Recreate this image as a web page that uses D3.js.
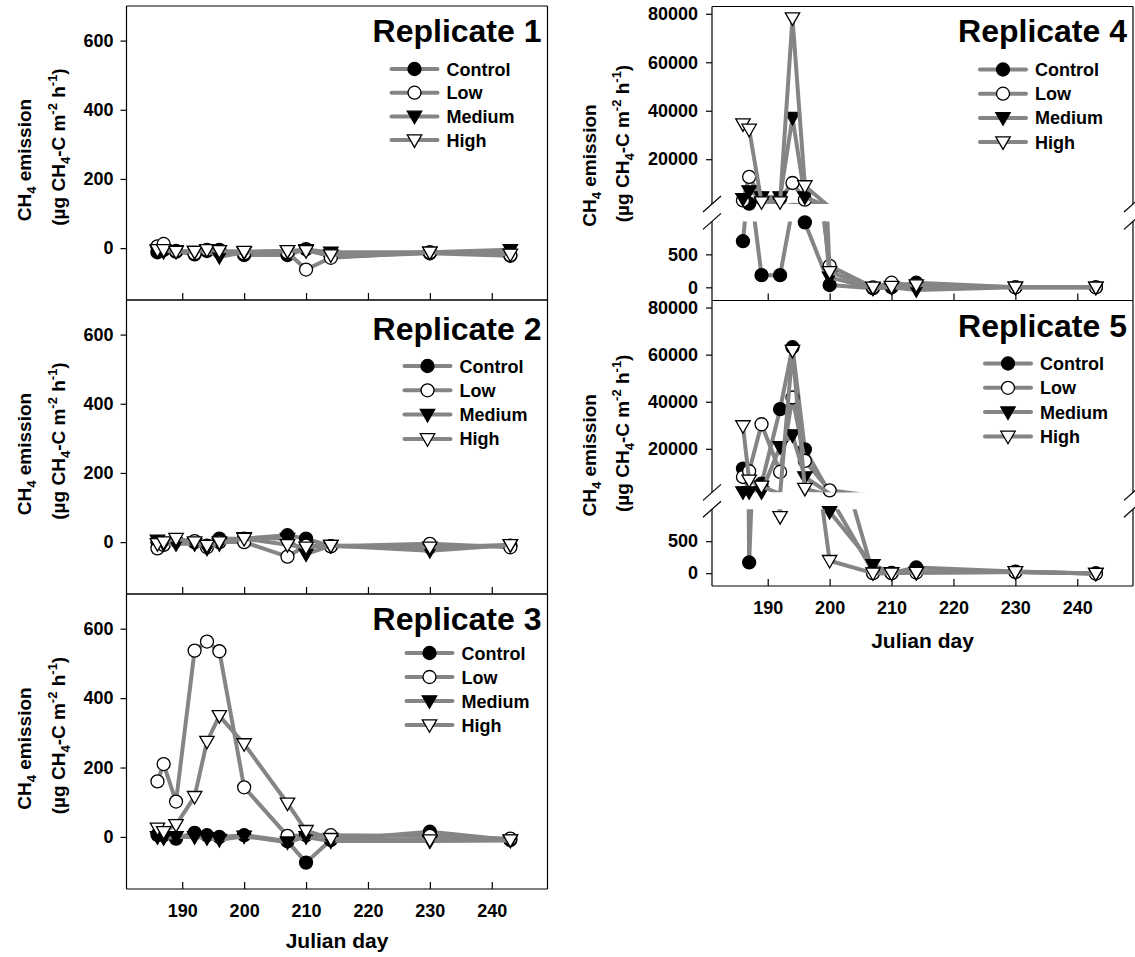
<!DOCTYPE html>
<html><head><meta charset="utf-8">
<script src="https://cdn.jsdelivr.net/npm/d3@7"></script>
<style>
body{margin:0;background:#fff}
svg{display:block}
text{font-family:Arial,"Liberation Sans",Helvetica,sans-serif;font-weight:bold;fill:#000}
</style>
</head><body>
<svg id="c" width="1135" height="957"></svg>
<script>
// ---------------- data ----------------
const days = [186,187,189,192,194,196,200,207,210,214,230,243];
const treatments = ["Control","Low","Medium","High"];
const xTicks = [190,200,210,220,230,240];
const yTicksSmall = [0,200,400,600];
const yTicksUpper = [20000,40000,60000,80000];
const yTicksLower = [0,500];
const panelTitles = ["Replicate 1","Replicate 2","Replicate 3","Replicate 4","Replicate 5"];

const rep1Control = [-12,-5,-10,-18,-8,-5,-20,-20,-3,-25,-15,-22];
const rep1Low     = [5,12,-8,-15,-5,-10,-15,-12,-62,-28,-12,-20];
const rep1Medium  = [-8,-10,-8,-10,-5,-25,-12,-8,-5,-12,-12,-5];
const rep1High    = [-5,-5,-10,-10,-5,-8,-10,-8,-8,-20,-12,-18];

const rep2Control = [0,-5,5,0,-10,10,10,20,10,-12,-15,-10];
const rep2Low     = [-18,-8,5,3,-15,0,0,-42,-10,-12,-5,-15];
const rep2Medium  = [5,-5,-5,-5,-18,-5,12,10,-35,-10,-25,-8];
const rep2High    = [-5,0,10,0,-10,0,10,-8,-15,-10,-15,-8];

const rep3Control = [6,5,-5,12,5,0,5,-12,-74,-9,15,-9];
const rep3Low     = [160,210,102,537,563,535,143,3,5,5,3,-5];
const rep3Medium  = [0,-3,0,0,-3,-8,2,-15,0,-12,-12,-10];
const rep3High    = [25,15,35,116,275,349,268,97,18,-5,-9,-9];

const rep4Control = [700,1670,185,185,1200,985,35,-15,0,70,0,0];
const rep4Low     = [3000,12700,3800,3800,10200,3300,325,0,70,25,0,0];
const rep4Medium  = [3700,6900,4400,4400,37200,4400,150,-15,0,-40,0,0];
const rep4High    = [34500,32300,2350,2350,78200,8970,235,0,10,35,0,0];

const rep5Control = [11620,168,5200,36840,63160,19740,1200,25,5,89,25,-5];
const rep5Low     = [8030,10470,30430,10170,41800,14870,2350,0,0,10,20,-5];
const rep5Medium  = [1650,1650,1650,20850,25850,8030,960,131,5,10,20,-5];
const rep5High    = [29700,6620,4060,880,61750,3080,195,0,0,10,20,-5];

// ---------------- layout ----------------
const svg = d3.select("#c");
const LINE_COLOR = "#858585";
const FS_TICK = 18, FS_LEG = 18, FS_TITLE = 32, FS_AX = 21, FS_YT = 19;

const panels = [
  {title:panelTitles[0], series:[rep1Control,rep1Low,rep1Medium,rep1High], x0:126.5, x1:547.5, top:6, bottom:300, broken:false, xLabels:false, leg:{dx:133, dy:63, step:23.7}, tDy:36},
  {title:panelTitles[1], series:[rep2Control,rep2Low,rep2Medium,rep2High], x0:126.5, x1:547.5, top:300, bottom:594, broken:false, xLabels:false, leg:{dx:120, dy:66, step:24.3}, tDy:40},
  {title:panelTitles[2], series:[rep3Control,rep3Low,rep3Medium,rep3High], x0:126.5, x1:547.5, top:594, bottom:889, broken:false, xLabels:true, leg:{dx:118, dy:59, step:24}, tDy:36},
  {title:panelTitles[3], series:[rep4Control,rep4Low,rep4Medium,rep4High], x0:712, x1:1133, top:6.5, bottom:300.5, broken:true, xLabels:false, leg:{dx:130, dy:63, step:24.2}, tDy:35},
  {title:panelTitles[4], series:[rep5Control,rep5Low,rep5Medium,rep5High], x0:712, x1:1133, top:300.5, bottom:586, broken:true, xLabels:true, leg:{dx:125, dy:63, step:24.3}, tDy:36}
];

const markerStyle = [
  {shape:"circle", fill:"#000"},
  {shape:"circle", fill:"#fff"},
  {shape:"tri", fill:"#000"},
  {shape:"tri", fill:"#fff"}
];

function drawMarker(g, x, y, st){
  if(st.shape==="circle"){
    g.append("circle").attr("cx",x).attr("cy",y).attr("r",6.5)
      .attr("fill",st.fill).attr("stroke","#000").attr("stroke-width",1.3);
  } else {
    g.append("path").attr("d",`M${x-7.2},${y-5.2}L${x+7.2},${y-5.2}L${x},${y+7.3}Z`)
      .attr("fill",st.fill).attr("stroke","#000").attr("stroke-width",1.3).attr("stroke-linejoin","miter");
  }
}

let clipId = 0;
panels.forEach((p, pi) => {
  const g = svg.append("g");
  const x = d3.scaleLinear().domain([181,249]).range([p.x0,p.x1]);
  const H = p.bottom - p.top;
  let segs;
  if(!p.broken){
    segs = [{y:d3.scaleLinear().domain([-150,700]).range([p.bottom,p.top]), ticks:yTicksSmall, lo:-150, hi:700}];
  } else {
    const upB = p.top + 0.672*H, loT = p.bottom - 0.269*H;
    segs = [
      {y:d3.scaleLinear().domain([1500,83000]).range([upB,p.top]), ticks:yTicksUpper, lo:1500, hi:83000},
      {y:d3.scaleLinear().domain([-200,1000]).range([p.bottom,loT]), ticks:yTicksLower, lo:-200, hi:1000}
    ];
  }
  // clip paths
  segs.forEach(s => {
    const id = "clip"+(clipId++);
    const r = s.y.range();
    svg.append("clipPath").attr("id",id).append("rect")
      .attr("x",p.x0).attr("y",Math.min(r[0],r[1])).attr("width",p.x1-p.x0).attr("height",Math.abs(r[0]-r[1]));
    s.clip = id;
  });

  // series: line then markers, in order
  p.series.forEach((vals, si) => {
    const pts = days.map((d,i)=>({d, v:vals[i]}));
    segs.forEach(s => {
      const line = d3.line().x(q=>x(q.d)).y(q=>s.y(q.v));
      g.append("path").attr("d",line(pts)).attr("fill","none")
        .attr("stroke",LINE_COLOR).attr("stroke-width",4).attr("stroke-linejoin","round")
        .attr("clip-path",`url(#${s.clip})`);
    });
    segs.forEach(s => {
      pts.forEach(q => {
        if(q.v>=s.lo && q.v<=s.hi) drawMarker(g, x(q.d), s.y(q.v), markerStyle[si]);
      });
    });
  });

  // frame
  const fr = g.append("g").attr("stroke","#000").attr("stroke-width",1.2).attr("fill","none");
  fr.append("line").attr("x1",p.x0).attr("x2",p.x1).attr("y1",p.top).attr("y2",p.top);
  fr.append("line").attr("x1",p.x0).attr("x2",p.x1).attr("y1",p.bottom).attr("y2",p.bottom);
  if(!p.broken){
    fr.append("line").attr("x1",p.x0).attr("x2",p.x0).attr("y1",p.top).attr("y2",p.bottom);
    fr.append("line").attr("x1",p.x1).attr("x2",p.x1).attr("y1",p.top).attr("y2",p.bottom);
  } else {
    const upB = segs[0].y.range()[0], loT = segs[1].y.range()[1];
    [p.x0,p.x1].forEach(xx => {
      fr.append("line").attr("x1",xx).attr("x2",xx).attr("y1",p.top).attr("y2",upB);
      fr.append("line").attr("x1",xx).attr("x2",xx).attr("y1",loT).attr("y2",p.bottom);
      [upB, loT].forEach(yy => {
        fr.append("line").attr("x1",xx-9).attr("y1",yy+8).attr("x2",xx+9).attr("y2",yy-8);
      });
    });
  }

  // y axes
  segs.forEach(s => {
    const ax = g.append("g").attr("transform",`translate(${p.x0},0)`)
      .call(d3.axisLeft(s.y).tickValues(s.ticks).tickFormat(d3.format("d")).tickSize(6).tickPadding(p.broken?8:7));
    ax.select(".domain").remove();
    ax.selectAll("line").attr("stroke","#000").attr("stroke-width",1.2);
    ax.selectAll("text").attr("font-size",FS_TICK).attr("font-family",null).attr("fill","#000");
  });

  // x axis (inward ticks)
  const xa = g.append("g").attr("transform",`translate(0,${p.bottom})`)
    .call(d3.axisBottom(x).tickValues(xTicks).tickSize(-7).tickPadding(15)
      .tickFormat(p.xLabels ? d3.format("d") : ()=>""));
  xa.select(".domain").remove();
  xa.selectAll("line").attr("stroke","#000").attr("stroke-width",1.2);
  xa.selectAll("text").attr("font-size",FS_TICK).attr("font-family",null).attr("fill","#000");

  if(p.xLabels){
    g.append("text").attr("x",(p.x0+p.x1)/2).attr("y",p.bottom+ (p.broken?62:59))
      .attr("text-anchor","middle").attr("font-size",FS_AX).text("Julian day");
  }

  // panel title
  g.append("text").attr("x",p.x1-6).attr("y",p.top+p.tDy).attr("text-anchor","end")
    .attr("font-size",FS_TITLE).text(p.title);

  // legend
  treatments.forEach((t, si) => {
    const cx = p.x1 - p.leg.dx, cy = p.top + p.leg.dy + si*p.leg.step;
    g.append("line").attr("x1",cx-23).attr("x2",cx+23).attr("y1",cy).attr("y2",cy)
      .attr("stroke",LINE_COLOR).attr("stroke-width",4).attr("stroke-linecap","round");
    drawMarker(g, cx, cy, markerStyle[si]);
    g.append("text").attr("x",cx+32).attr("y",cy+6.5).attr("font-size",FS_LEG).text(t);
  });

  // y title (two lines)
  const cy = (p.top+p.bottom)/2;
  const bx1 = p.broken ? p.x0-116 : p.x0-96;
  const bx2 = p.broken ? p.x0-83 : p.x0-62;
  const c1 = cy + (p.broken?12:7), c2 = cy - (p.broken?10:6);
  const t1 = g.append("text").attr("transform",`translate(${bx1},${c1}) rotate(-90)`)
    .attr("text-anchor","middle").attr("font-size",FS_YT);
  t1.append("tspan").text("CH");
  t1.append("tspan").attr("font-size",13).attr("dy",5).text("4");
  t1.append("tspan").attr("dy",-5).text(" emission");
  const t2 = g.append("text").attr("transform",`translate(${bx2},${c2}) rotate(-90)`)
    .attr("text-anchor","middle").attr("font-size",FS_YT);
  t2.append("tspan").text("(µg CH");
  t2.append("tspan").attr("font-size",13).attr("dy",5).text("4");
  t2.append("tspan").attr("dy",-5).text("-C m");
  t2.append("tspan").attr("font-size",13).attr("dy",-8).text("-2");
  t2.append("tspan").attr("dy",8).text(" h");
  t2.append("tspan").attr("font-size",13).attr("dy",-8).text("-1");
  t2.append("tspan").attr("dy",8).text(")");
});
</script>
</body></html>
